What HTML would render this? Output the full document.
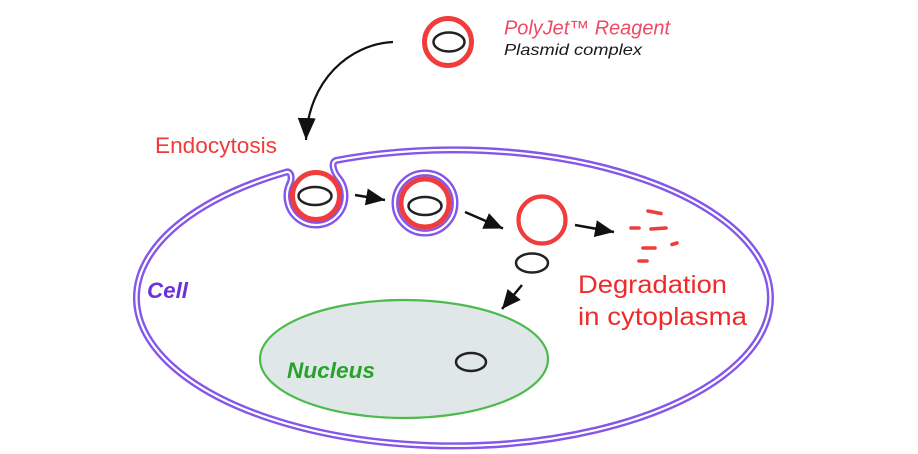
<!DOCTYPE html>
<html>
<head>
<meta charset="utf-8">
<style>
  html,body{margin:0;padding:0;background:#fff;}
  svg{display:block;}
  text{font-family:"Liberation Sans", Arial, sans-serif;}
</style>
</head>
<body>
<svg width="918" height="454" viewBox="0 0 918 454" xmlns="http://www.w3.org/2000/svg">
  <defs>
    <marker id="ah" markerUnits="userSpaceOnUse" markerWidth="19" markerHeight="17" refX="19" refY="8.5" orient="auto" viewBox="0 0 19 17">
      <path d="M0,0 L19,8.5 L0,17 Z" fill="#111"/>
    </marker>
    <marker id="ahBig" markerUnits="userSpaceOnUse" markerWidth="22" markerHeight="18" refX="22" refY="9" orient="auto" viewBox="0 0 22 18">
      <path d="M0,0 L22,9 L0,18 Z" fill="#111"/>
    </marker>
  </defs>

  <rect width="918" height="454" fill="#fff"/>

  <!-- Nucleus -->
  <ellipse cx="404" cy="359" rx="144" ry="59" fill="#e0e7e8" stroke="#4cbb4c" stroke-width="2.2"/>

  <!-- Cell membrane (double line) -->
  <path d="M 336 160.4 A 317 148 0 1 1 286 172.2 C 291 170.5, 292.4 178, 289.9 183.3 A 29 29 0 1 0 338.2 177.4 C 334.5 173, 330 162.5, 336 160.4 Z"
        fill="none" stroke="#8456ea" stroke-width="7" stroke-linejoin="round"/>
  <path d="M 336 160.4 A 317 148 0 1 1 286 172.2 C 291 170.5, 292.4 178, 289.9 183.3 A 29 29 0 1 0 338.2 177.4 C 334.5 173, 330 162.5, 336 160.4 Z"
        fill="none" stroke="#fff" stroke-width="2.2" stroke-linejoin="round"/>

  <!-- Top complex -->
  <circle cx="448" cy="42" r="23.5" fill="#fff" stroke="#f03c3c" stroke-width="5"/>
  <ellipse cx="449" cy="42" rx="15.5" ry="9.5" fill="none" stroke="#222" stroke-width="2.5"/>

  <!-- Vesicle 1 (in pocket) -->
  <circle cx="316" cy="196" r="23.5" fill="#fff" stroke="#f03c3c" stroke-width="5"/>
  <ellipse cx="315" cy="196" rx="16.5" ry="9" fill="none" stroke="#222" stroke-width="2.5"/>

  <!-- Vesicle 2 (endosome) -->
  <circle cx="425" cy="203" r="30" fill="none" stroke="#8456ea" stroke-width="7"/>
  <circle cx="425" cy="203" r="30" fill="none" stroke="#fff" stroke-width="2.2"/>
  <circle cx="425" cy="203" r="24" fill="#fff" stroke="#f03c3c" stroke-width="5"/>
  <ellipse cx="425" cy="206" rx="16.5" ry="9" fill="none" stroke="#222" stroke-width="2.5"/>

  <!-- Vesicle 3 (released) -->
  <circle cx="542" cy="220" r="23.5" fill="#fff" stroke="#f03c3c" stroke-width="4.2"/>
  <ellipse cx="532" cy="263" rx="16" ry="9.5" fill="none" stroke="#222" stroke-width="2.5"/>

  <!-- Plasmid in nucleus -->
  <ellipse cx="471" cy="362" rx="15" ry="9" fill="none" stroke="#222" stroke-width="2.5"/>

  <!-- Degradation fragments -->
  <g stroke="#f03c3c" stroke-width="3.6" stroke-linecap="round" fill="none">
    <line x1="648" y1="211" x2="661" y2="213.5"/>
    <line x1="631" y1="228" x2="639" y2="228"/>
    <line x1="651" y1="229" x2="666" y2="228"/>
    <line x1="643" y1="248" x2="655" y2="248"/>
    <line x1="672" y1="244.5" x2="677" y2="243"/>
    <line x1="639" y1="261" x2="647" y2="261"/>
  </g>

  <!-- Arrows -->
  <path d="M 393 42 C 350 44, 308 80, 306 140" fill="none" stroke="#111" stroke-width="2.2" marker-end="url(#ahBig)"/>
  <line x1="355" y1="195" x2="385" y2="200" stroke="#111" stroke-width="2.5" marker-end="url(#ah)"/>
  <line x1="465" y1="212" x2="503" y2="228.5" stroke="#111" stroke-width="2.5" marker-end="url(#ah)"/>
  <line x1="575" y1="225" x2="614" y2="232" stroke="#111" stroke-width="2.5" marker-end="url(#ah)"/>
  <line x1="522" y1="285" x2="502" y2="309" stroke="#111" stroke-width="2.5" marker-end="url(#ah)"/>

  <!-- Labels -->
  <text x="504" y="34.5" font-size="20" font-style="italic" fill="#f04a62" textLength="166" lengthAdjust="spacingAndGlyphs">PolyJet™ Reagent</text>
  <text x="504" y="55" font-size="16" font-style="italic" fill="#1a1a1a" textLength="138" lengthAdjust="spacingAndGlyphs">Plasmid complex</text>
  <text x="155" y="153" font-size="22" fill="#f03b3b" textLength="122" lengthAdjust="spacingAndGlyphs">Endocytosis</text>
  <text x="147" y="298" font-size="22" font-weight="bold" font-style="italic" fill="#6b32d8" textLength="41" lengthAdjust="spacingAndGlyphs">Cell</text>
  <text x="287" y="378" font-size="22" font-weight="bold" font-style="italic" fill="#27a32a" textLength="88" lengthAdjust="spacingAndGlyphs">Nucleus</text>
  <text x="578" y="293" font-size="25" fill="#f02a2a" textLength="149" lengthAdjust="spacingAndGlyphs">Degradation</text>
  <text x="578" y="325" font-size="25" fill="#f02a2a" textLength="169" lengthAdjust="spacingAndGlyphs">in cytoplasma</text>
</svg>
</body>
</html>
